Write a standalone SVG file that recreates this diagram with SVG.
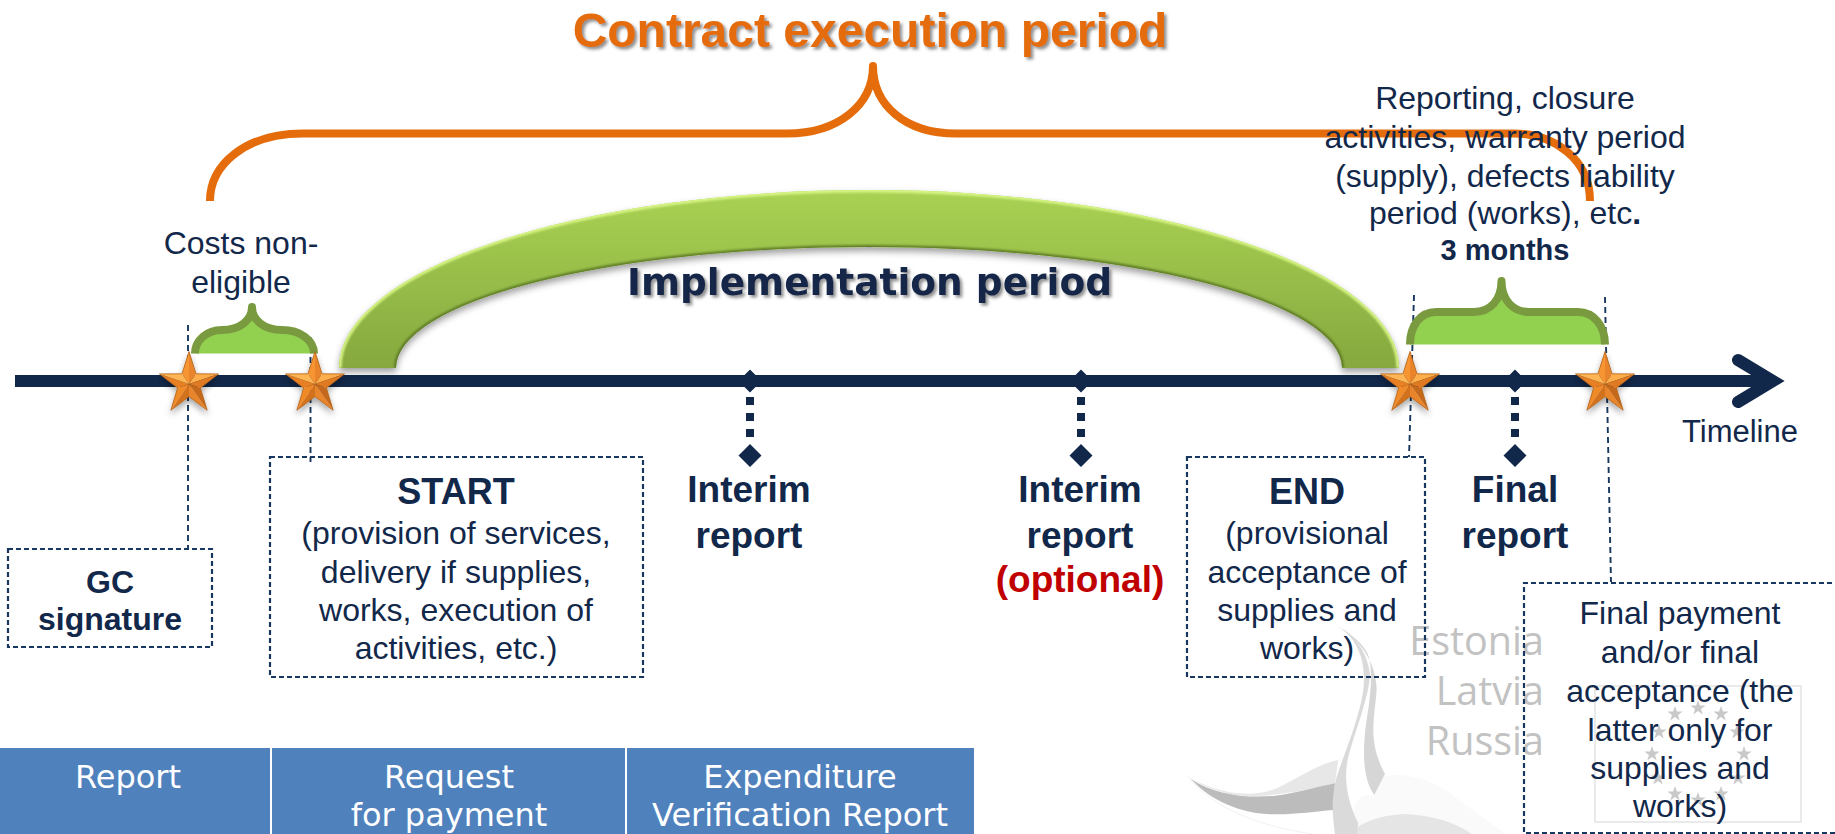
<svg xmlns="http://www.w3.org/2000/svg" xmlns:xlink="http://www.w3.org/1999/xlink" width="1835" height="834" viewBox="0 0 1835 834">
<style>
text{font-family:"Liberation Sans",Arial,sans-serif;fill:#12284a;text-anchor:middle}
.n{font-size:32px}
.b{font-weight:700}
.h{font-weight:700;font-size:37px}
.s{font-weight:700;font-size:36px}
.t{font-family:"DejaVu Sans",Verdana,sans-serif;font-size:32px;fill:#fff}
.w{font-family:"Open Sans","Liberation Sans",sans-serif;font-size:39.5px;fill:#c2c2c2;text-anchor:end}
.box{fill:none;stroke:#17375e;stroke-width:2.2;stroke-dasharray:5 3}
.lead{fill:none;stroke:#17375e;stroke-width:1.9;stroke-dasharray:6 4}
.stem{fill:none;stroke:#12284a;stroke-width:8;stroke-dasharray:8 8}
.dm{fill:#12284a}
.bf{fill:#92d050}
.bs{fill:none;stroke:#7a9a40;stroke-width:8;stroke-linejoin:round}
</style>
<defs>
<linearGradient id="arch" gradientUnits="userSpaceOnUse" x1="0" y1="190" x2="0" y2="368"><stop offset="0" stop-color="#a9d253"/><stop offset="1" stop-color="#86a83f"/></linearGradient>
<filter id="sh" x="-10%" y="-10%" width="120%" height="130%"><feDropShadow dx="0" dy="4" stdDeviation="3.5" flood-color="#000" flood-opacity=".38"/></filter>
<filter id="tsh" x="-5%" y="-20%" width="110%" height="150%"><feDropShadow dx="2.5" dy="2.5" stdDeviation="1.6" flood-color="#444" flood-opacity=".6"/></filter>
<filter id="bl" x="-5%" y="-5%" width="110%" height="110%"><feGaussianBlur stdDeviation="1.1"/></filter>
<filter id="ssh" x="-30%" y="-30%" width="160%" height="170%"><feDropShadow dx="0" dy="4" stdDeviation="3" flood-color="#000" flood-opacity=".35"/></filter>
<clipPath id="archc"><path d="M339,368 A530,178 0 0 1 1399,368 L1342,368 A473,121 0 0 0 396,368 Z"/></clipPath>
<g id="star" filter="url(#ssh)">
<g transform="scale(1,1.05)">
<polygon points="0,0 0,-31 7,-9.7" fill="#e9842a"/>
<polygon points="0,0 -7,-9.7 0,-31" fill="#f69530"/>
<polygon points="0,0 7,-9.7 29.5,-9.6" fill="#fdad48"/>
<polygon points="0,0 29.5,-9.6 11.4,3.7" fill="#e07a20"/>
<polygon points="0,0 11.4,3.7 18.2,25.1" fill="#c4691a"/>
<polygon points="0,0 18.2,25.1 0,12" fill="#e8852a"/>
<polygon points="0,0 0,12 -18.2,25.1" fill="#d2721c"/>
<polygon points="0,0 -18.2,25.1 -11.4,3.7" fill="#f08a28"/>
<polygon points="0,0 -11.4,3.7 -29.5,-9.6" fill="#e87f22"/>
<polygon points="0,0 -29.5,-9.6 -7,-9.7" fill="#ffb552"/>
<polygon points="0,-31 7,-9.7 29.5,-9.6 11.4,3.7 18.2,25.1 0,12 -18.2,25.1 -11.4,3.7 -29.5,-9.6 -7,-9.7" fill="none" stroke="#b0621a" stroke-width=".8"/>
</g>
</g>
<polygon id="eu" points="0,-8 1.9,-2.5 7.6,-2.5 3,1 4.7,6.5 0,3.1 -4.7,6.5 -3,1 -7.6,-2.5 -1.9,-2.5" fill="#c9c9c9"/>
</defs>

<rect width="1835" height="834" fill="#fff"/>

<g id="watermark">
<g transform="translate(1170,620) scale(.3333)">
<path d="M50,465 C130,575 300,625 430,642" fill="none" stroke="#f2f2f2" stroke-width="3"/>
<path d="M50,465 C130,520 250,540 330,500 C400,465 450,430 505,420 L495,490 C400,515 300,530 230,528 C150,522 100,500 50,465 Z" fill="#e7e7e8"/>
<path d="M62,476 C110,530 190,575 290,582 C360,586 430,575 490,570 L495,490 C420,505 370,522 310,528 C220,535 130,522 62,476 Z" fill="#bcbcbc"/>
<path d="M640,470 C700,455 780,475 840,520 C900,565 960,610 1010,642 L570,642 L560,610 C540,560 560,520 615,525 Z" fill="#fafafa"/>
<path d="M540,642 C570,605 640,585 700,582 C790,585 860,610 905,642 Z" fill="#e5e5e6"/>
<path d="M500,18 C560,50 590,120 580,210 C570,290 520,410 500,470 C480,550 490,600 495,642 L560,642 L565,610 C530,540 520,470 535,410 C560,320 600,220 600,160 C590,90 550,40 500,18 Z" fill="#dadadb"/>
<path d="M500,18 C570,55 620,130 620,210 C615,290 590,360 645,462 L613,525 C580,480 575,400 590,300 C605,210 610,130 590,95 C570,60 530,35 500,18 Z" fill="#d6d6d7"/>
</g>
<text class="w" x="1544" y="655">Estonia</text>
<text class="w" x="1544" y="705">Latvia</text>
<text class="w" x="1544" y="755">Russia</text>
<rect x="1595" y="686" width="206" height="136" fill="none" stroke="#e3e3e3" stroke-width="1.5"/>
<use xlink:href="#eu" href="#eu" x="1698" y="708"/><use xlink:href="#eu" href="#eu" x="1675" y="714"/><use xlink:href="#eu" href="#eu" x="1721" y="714"/>
<use xlink:href="#eu" href="#eu" x="1659" y="732"/><use xlink:href="#eu" href="#eu" x="1737" y="732"/><use xlink:href="#eu" href="#eu" x="1652" y="754"/>
<use xlink:href="#eu" href="#eu" x="1744" y="754"/><use xlink:href="#eu" href="#eu" x="1658" y="778"/><use xlink:href="#eu" href="#eu" x="1738" y="778"/>
<use xlink:href="#eu" href="#eu" x="1675" y="794"/><use xlink:href="#eu" href="#eu" x="1721" y="794"/><use xlink:href="#eu" href="#eu" x="1698" y="800"/>
</g>

<g id="connectors">
<path class="lead" d="M188,325 L188,548"/>
<path class="lead" d="M310.500,337 L310.500,462"/>
<path class="lead" d="M1414,295 L1409,457"/>
<path class="lead" d="M1605,297 L1611,582"/>
<path class="stem" d="M750,397 V444"/>
<path class="stem" d="M1081,397 V444"/>
<path class="stem" d="M1515,397 V444"/>
</g>

<g id="timeline">
<rect x="15" y="375" width="1755" height="12" fill="#12284a"/>
<path d="M1738,360 L1773,381 L1738,402" fill="none" stroke="#12284a" stroke-width="12" stroke-linecap="round" stroke-linejoin="miter"/>
<text class="n" x="1740" y="442" style="font-size:31px">Timeline</text>
</g>

<g id="contract-brace">
<path d="M210,201 C210,165 245,133.500 303,133.500 L787,133.500 C838,133.500 873,105 873,66 C873,105 905,133.500 956,133.500 L1513.600,133.500 C1555,133.500 1590,160 1590,201" fill="none" stroke="#e46c0a" stroke-width="8" stroke-linejoin="round"/>
<text x="870" y="47" class="b" style="font-size:48px;fill:#e46c0a" filter="url(#tsh)">Contract execution period</text>
</g>

<g id="implementation">
<path d="M339,368 A530,178 0 0 1 1399,368 L1342,368 A473,121 0 0 0 396,368 Z" fill="url(#arch)" filter="url(#sh)"/>
<g clip-path="url(#archc)">
<path d="M339,368 A530,178 0 0 1 1399,368" fill="none" stroke="#d8f585" stroke-width="5" filter="url(#bl)"/>
<path d="M396,368 A473,121 0 0 1 1342,368" fill="none" stroke="#5e7c28" stroke-width="4" filter="url(#bl)"/>
<path d="M339,367 H396 M1342,367 H1399" fill="none" stroke="#5e7c28" stroke-width="3" filter="url(#bl)"/>
</g>
<text x="869.500" y="295" class="b" style="font-family:'DejaVu Sans',Verdana,sans-serif;font-size:37.5px" filter="url(#tsh)">Implementation period</text>
</g>

<g id="brace-costs">
<path class="bf" d="M195,353.500 C195,340 207,330 222,330 C240,330 252,320 252,307 C252,320 264,330 282,330 C300,330 314,340 314,353.500 Z"/>
<path class="bs" d="M195,353.500 C195,340 207,330 222,330 C240,330 252,320 252,307 C252,320 264,330 282,330 C300,330 314,340 314,353.500"/>
<text class="n" x="241" y="254">Costs non-</text>
<text class="n" x="241" y="293">eligible</text>
</g>

<g id="brace-closure">
<path class="bf" d="M1410,344.500 C1410,326 1420,312 1436,312 L1474,312 C1490,312 1501.500,300 1501.500,281 C1501.500,300 1513,312 1529,312 L1578,312 C1594,312 1605,326 1605,344.500 Z"/>
<path class="bs" d="M1410,344.500 C1410,326 1420,312 1436,312 L1474,312 C1490,312 1501.500,300 1501.500,281 C1501.500,300 1513,312 1529,312 L1578,312 C1594,312 1605,326 1605,344.500"/>
<text class="n" x="1505" y="109">Reporting, closure</text>
<text class="n" x="1505" y="148">activities, warranty period</text>
<text class="n" x="1505" y="187">(supply), defects liability</text>
<text class="n" x="1505" y="224">period (works), etc<tspan class="b">.</tspan></text>
<text class="b" x="1505" y="260" style="font-size:29px">3 months</text>
</g>

<g id="stars">
<use xlink:href="#star" href="#star" x="189" y="384"/>
<use xlink:href="#star" href="#star" x="315" y="384"/>
<use xlink:href="#star" href="#star" x="1410" y="384"/>
<use xlink:href="#star" href="#star" x="1605" y="384"/>
</g>

<g id="gc-signature">
<rect class="box" x="8" y="549" width="204" height="98"/>
<text class="n b" x="110" y="593">GC</text>
<text class="n b" x="110" y="630">signature</text>
</g>

<g id="start">
<rect class="box" x="270" y="457" width="373" height="220"/>
<text class="s" x="456" y="504">START</text>
<text class="n" x="456" y="544">(provision of services,</text>
<text class="n" x="456" y="583">delivery if supplies,</text>
<text class="n" x="456" y="621">works, execution of</text>
<text class="n" x="456" y="659">activities, etc.)</text>
</g>

<g id="interim-1">
<path class="dm" d="M750,369.500 L761.500,381 L750,392.500 L738.500,381 Z M750,444 L761.500,455.500 L750,467 L738.500,455.500 Z"/>
<text class="h" x="749" y="502">Interim</text>
<text class="h" x="749" y="548">report</text>
</g>

<g id="interim-2">
<path class="dm" d="M1081,369.500 L1092.500,381 L1081,392.500 L1069.500,381 Z M1081,444 L1092.500,455.500 L1081,467 L1069.500,455.500 Z"/>
<text class="h" x="1080" y="502">Interim</text>
<text class="h" x="1080" y="548">report</text>
<text class="h" x="1080" y="592" style="fill:#c00000">(optional)</text>
</g>

<g id="end">
<rect class="box" x="1187" y="457" width="238" height="220"/>
<text class="s" x="1307" y="504">END</text>
<text class="n" x="1307" y="544">(provisional</text>
<text class="n" x="1307" y="583">acceptance of</text>
<text class="n" x="1307" y="621">supplies and</text>
<text class="n" x="1307" y="659">works)</text>
</g>

<g id="final-report">
<path class="dm" d="M1515,369.500 L1526.500,381 L1515,392.500 L1503.500,381 Z M1515,444 L1526.500,455.500 L1515,467 L1503.500,455.500 Z"/>
<text class="h" x="1515" y="502">Final</text>
<text class="h" x="1515" y="548">report</text>
</g>

<g id="final-payment">
<path class="box" d="M1840,583 H1524 V833 H1840"/>
<text class="n" x="1680" y="624">Final payment</text>
<text class="n" x="1680" y="663">and/or final</text>
<text class="n" x="1680" y="702">acceptance (the</text>
<text class="n" x="1680" y="741">latter only for</text>
<text class="n" x="1680" y="779">supplies and</text>
<text class="n" x="1680" y="817">works)</text>
</g>

<g id="table">
<rect x="0" y="748" width="974" height="86" fill="#4f81bd"/>
<rect x="270" y="748" width="2" height="86" fill="#fff"/>
<rect x="625" y="748" width="2" height="86" fill="#fff"/>
<text class="t" x="128" y="788">Report</text>
<text class="t" x="449" y="788">Request</text>
<text class="t" x="449" y="826">for payment</text>
<text class="t" x="800" y="788">Expenditure</text>
<text class="t" x="800" y="826">Verification Report</text>
</g>
</svg>
